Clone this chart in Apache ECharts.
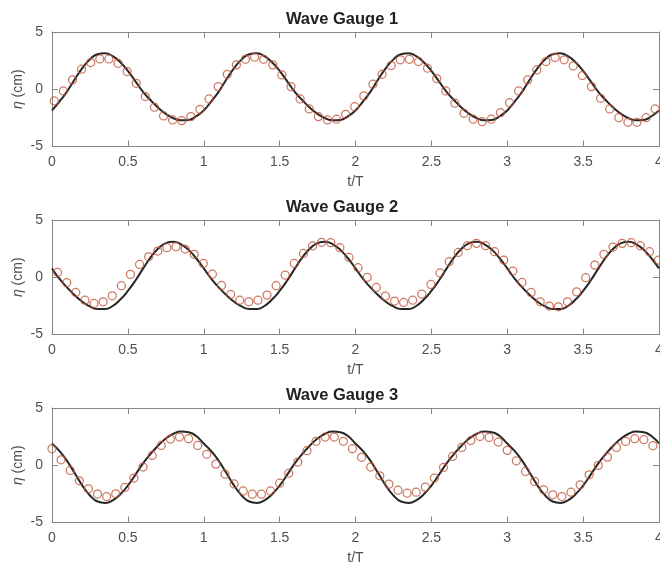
<!DOCTYPE html>
<html>
<head>
<meta charset="utf-8">
<script src="https://cdn.jsdelivr.net/npm/echarts@6/dist/echarts.min.js"></script>
<style>
    html, body { margin: 0; padding: 0; background: #fff; }
    #main { width: 660px; height: 571px; }
</style>
</head>
<body>
<div id="main"></div>
<script>
// 理论曲线的采样时刻 t/T
var lineT = [0, 0.05, 0.1, 0.15, 0.2, 0.25, 0.3, 0.35, 0.4, 0.45, 0.5, 0.55, 0.6, 0.65, 0.7, 0.75, 0.8, 0.85, 0.9, 0.95,
    1, 1.05, 1.1, 1.15, 1.2, 1.25, 1.3, 1.35, 1.4, 1.45, 1.5, 1.55, 1.6, 1.65, 1.7, 1.75, 1.8, 1.85, 1.9, 1.95,
    2, 2.05, 2.1, 2.15, 2.2, 2.25, 2.3, 2.35, 2.4, 2.45, 2.5, 2.55, 2.6, 2.65, 2.7, 2.75, 2.8, 2.85, 2.9, 2.95,
    3, 3.05, 3.1, 3.15, 3.2, 3.25, 3.3, 3.35, 3.4, 3.45, 3.5, 3.55, 3.6, 3.65, 3.7, 3.75, 3.8, 3.85, 3.9, 3.95, 4];

// 理论曲线 η (cm)
var line1 = [-1.85, -1.05, -0.18, 0.87, 1.85, 2.61, 3.06, 3.14, 2.89, 2.36, 1.60, 0.69, -0.23, -0.96, -1.62, -2.15, -2.53, -2.71, -2.68, -2.36,
    -1.85, -1.05, -0.18, 0.87, 1.85, 2.61, 3.06, 3.14, 2.89, 2.36, 1.60, 0.69, -0.23, -0.96, -1.62, -2.15, -2.53, -2.71, -2.68, -2.36,
    -1.85, -1.05, -0.18, 0.87, 1.85, 2.61, 3.06, 3.14, 2.89, 2.36, 1.60, 0.69, -0.23, -0.96, -1.62, -2.15, -2.53, -2.71, -2.68, -2.36,
    -1.85, -1.05, -0.18, 0.87, 1.85, 2.61, 3.06, 3.14, 2.89, 2.36, 1.60, 0.69, -0.23, -0.96, -1.62, -2.15, -2.53, -2.71, -2.68, -2.36, -1.85];
var line2 = [0.77, -0.15, -0.90, -1.58, -2.14, -2.55, -2.77, -2.78, -2.51, -1.95, -1.19, -0.28, 0.75, 1.73, 2.51, 2.98, 3.09, 2.88, 2.39, 1.66,
    0.77, -0.15, -0.90, -1.58, -2.14, -2.55, -2.77, -2.78, -2.51, -1.95, -1.19, -0.28, 0.75, 1.73, 2.51, 2.98, 3.09, 2.88, 2.39, 1.66,
    0.77, -0.15, -0.90, -1.58, -2.14, -2.55, -2.77, -2.78, -2.51, -1.95, -1.19, -0.28, 0.75, 1.73, 2.51, 2.98, 3.09, 2.88, 2.39, 1.66,
    0.77, -0.15, -0.90, -1.58, -2.14, -2.55, -2.77, -2.78, -2.51, -1.95, -1.19, -0.28, 0.75, 1.73, 2.51, 2.98, 3.09, 2.88, 2.39, 1.66, 0.77];
var line3 = [1.90, 1.23, 0.36, -0.70, -1.78, -2.64, -3.17, -3.29, -3.07, -2.54, -1.77, -0.82, 0.17, 0.99, 1.73, 2.34, 2.75, 2.94, 2.88, 2.55,
    1.90, 1.23, 0.36, -0.70, -1.78, -2.64, -3.17, -3.29, -3.07, -2.54, -1.77, -0.82, 0.17, 0.99, 1.73, 2.34, 2.75, 2.94, 2.88, 2.55,
    1.90, 1.23, 0.36, -0.70, -1.78, -2.64, -3.17, -3.29, -3.07, -2.54, -1.77, -0.82, 0.17, 0.99, 1.73, 2.34, 2.75, 2.94, 2.88, 2.55,
    1.90, 1.23, 0.36, -0.70, -1.78, -2.64, -3.17, -3.29, -3.07, -2.54, -1.77, -0.82, 0.17, 0.99, 1.73, 2.34, 2.75, 2.94, 2.88, 2.55, 1.90];

// 实测点的时刻
var measT1 = [0.015, 0.075, 0.135, 0.195, 0.255, 0.315, 0.375, 0.435, 0.495, 0.555, 0.615, 0.675, 0.735, 0.795, 0.855, 0.915, 0.975,
    1.035, 1.095, 1.155, 1.215, 1.275, 1.335, 1.395, 1.455, 1.515, 1.575, 1.635, 1.695, 1.755, 1.815, 1.875, 1.935, 1.995,
    2.055, 2.115, 2.175, 2.235, 2.295, 2.355, 2.415, 2.475, 2.535, 2.595, 2.655, 2.715, 2.775, 2.835, 2.895, 2.955,
    3.015, 3.075, 3.135, 3.195, 3.255, 3.315, 3.375, 3.435, 3.495, 3.555, 3.615, 3.675, 3.735, 3.795, 3.855, 3.915, 3.975];
var measT2 = [0.037, 0.097, 0.157, 0.217, 0.277, 0.337, 0.397, 0.457, 0.517, 0.577, 0.637, 0.697, 0.757, 0.817, 0.877, 0.937, 0.997,
    1.057, 1.117, 1.177, 1.237, 1.297, 1.357, 1.417, 1.477, 1.537, 1.597, 1.657, 1.717, 1.777, 1.837, 1.897, 1.957,
    2.017, 2.077, 2.137, 2.197, 2.257, 2.317, 2.377, 2.437, 2.497, 2.557, 2.617, 2.677, 2.737, 2.797, 2.857, 2.917, 2.977,
    3.037, 3.097, 3.157, 3.217, 3.277, 3.337, 3.397, 3.457, 3.517, 3.577, 3.637, 3.697, 3.757, 3.817, 3.877, 3.937, 3.997];
var measT3 = [0, 0.06, 0.12, 0.18, 0.24, 0.3, 0.36, 0.42, 0.48, 0.54, 0.6, 0.66, 0.72, 0.78, 0.84, 0.9, 0.96,
    1.02, 1.08, 1.14, 1.2, 1.26, 1.32, 1.38, 1.44, 1.5, 1.56, 1.62, 1.68, 1.74, 1.8, 1.86, 1.92, 1.98,
    2.04, 2.1, 2.16, 2.22, 2.28, 2.34, 2.4, 2.46, 2.52, 2.58, 2.64, 2.7, 2.76, 2.82, 2.88, 2.94,
    3, 3.06, 3.12, 3.18, 3.24, 3.3, 3.36, 3.42, 3.48, 3.54, 3.6, 3.66, 3.72, 3.78, 3.84, 3.9, 3.96];

// 实测 η (cm)
var meas1 = [-1.02, -0.15, 0.82, 1.75, 2.33, 2.65, 2.65, 2.27, 1.55, 0.52, -0.64, -1.57, -2.33, -2.68, -2.74, -2.39, -1.75,
    -0.85, 0.23, 1.31, 2.13, 2.62, 2.80, 2.62, 2.13, 1.25, 0.23, -0.85, -1.72, -2.39, -2.68, -2.62, -2.19, -1.52,
    -0.58, 0.44, 1.31, 2.07, 2.57, 2.62, 2.42, 1.84, 0.93, -0.15, -1.22, -2.10, -2.62, -2.83, -2.62, -2.04,
    -1.17, -0.15, 0.82, 1.69, 2.42, 2.77, 2.57, 2.04, 1.20, 0.23, -0.79, -1.72, -2.48, -2.89, -2.89, -2.48, -1.72];
var meas2 = [0.42, -0.48, -1.33, -2.00, -2.29, -2.14, -1.62, -0.74, 0.25, 1.12, 1.79, 2.29, 2.58, 2.67, 2.46, 2.00, 1.21,
    0.27, -0.72, -1.50, -2.00, -2.14, -2.00, -1.56, -0.74, 0.19, 1.21, 2.08, 2.73, 3.05, 3.02, 2.58, 1.73,
    0.83, -0.01, -0.89, -1.65, -2.08, -2.20, -2.00, -1.47, -0.63, 0.38, 1.36, 2.17, 2.76, 2.96, 2.76, 2.23, 1.50,
    0.54, -0.45, -1.33, -2.14, -2.52, -2.58, -2.14, -1.27, -0.04, 1.06, 2.00, 2.64, 2.96, 3.02, 2.76, 2.23, 1.50];
var meas3 = [1.44, 0.48, -0.45, -1.36, -2.06, -2.52, -2.73, -2.49, -1.94, -1.12, -0.16, 0.86, 1.73, 2.29, 2.46, 2.32, 1.73,
    0.96, 0.10, -0.77, -1.63, -2.24, -2.53, -2.53, -2.24, -1.57, -0.69, 0.28, 1.27, 2.09, 2.46, 2.46, 2.09, 1.45,
    0.69, -0.16, -0.92, -1.65, -2.18, -2.44, -2.35, -1.91, -1.12, -0.19, 0.77, 1.56, 2.17, 2.52, 2.43, 2.03,
    1.30, 0.39, -0.54, -1.41, -2.14, -2.58, -2.73, -2.35, -1.71, -0.83, -0.01, 0.71, 1.56, 2.08, 2.32, 2.23, 1.71];

var titles = ['Wave Gauge 1', 'Wave Gauge 2', 'Wave Gauge 3'];
var xTicks = { min: 0, max: 4, interval: 0.5 };
var yTicks = { min: -5, max: 5, interval: 5 };

var lineData = [line1, line2, line3];
var measTime = [measT1, measT2, measT3];
var measData = [meas1, meas2, meas3];

var FONT = 'Liberation Sans, Arial, Helvetica, sans-serif';
var AXIS_COLOR = '#868686';
var LABEL_COLOR = '#4f4f4f';
var gridTops = [32, 220, 408];

function pairs(xs, ys) {
    return xs.map(function (x, i) { return [x, ys[i]]; });
}

var grids = [], xAxes = [], yAxes = [], series = [], graphics = [];

for (var i = 0; i < 3; i++) {
    // outerBoundsMode none: 不让 v6 自动把标签缩进画布里
    grids.push({ left: 52, right: 1, top: gridTops[i], height: 114.5, outerBoundsMode: 'none', containLabel: false });

    var tick = { show: true, inside: true, length: 6, lineStyle: { color: AXIS_COLOR, width: 1 } };
    var axisLine = { show: true, onZero: false, lineStyle: { color: AXIS_COLOR, width: 1 } };

    // 下方 x 轴
    xAxes.push({
        gridIndex: i, type: 'value', position: 'bottom',
        min: xTicks.min, max: xTicks.max, interval: xTicks.interval,
        axisLine: axisLine, axisTick: tick, splitLine: { show: false },
        axisLabel: { color: LABEL_COLOR, fontSize: 14, fontFamily: FONT, margin: 9 },
        name: 't/T', nameLocation: 'middle', nameGap: 29,
        nameTextStyle: { color: LABEL_COLOR, fontSize: 14, fontFamily: FONT }
    });
    // 上方边框
    xAxes.push({
        gridIndex: i, type: 'value', position: 'top',
        min: xTicks.min, max: xTicks.max, interval: xTicks.interval,
        axisLine: axisLine, axisTick: tick, splitLine: { show: false },
        axisLabel: { show: false }
    });
    // 左侧 y 轴
    yAxes.push({
        gridIndex: i, type: 'value', position: 'left',
        min: yTicks.min, max: yTicks.max, interval: yTicks.interval,
        axisLine: axisLine, axisTick: tick, splitLine: { show: false },
        axisLabel: { color: LABEL_COLOR, fontSize: 14, fontFamily: FONT, margin: 9 },
        name: '{i|η} (cm)', nameLocation: 'middle', nameGap: 27, nameMoveOverlap: false,
        nameTextStyle: {
            color: LABEL_COLOR, fontSize: 14, fontFamily: FONT,
            rich: { i: { fontStyle: 'italic', fontSize: 14, fontFamily: FONT, color: LABEL_COLOR } }
        }
    });
    // 右侧边框
    yAxes.push({
        gridIndex: i, type: 'value', position: 'right',
        min: yTicks.min, max: yTicks.max, interval: yTicks.interval,
        axisLine: axisLine, axisTick: tick, splitLine: { show: false },
        axisLabel: { show: false }
    });

    series.push({
        type: 'line', xAxisIndex: i * 2, yAxisIndex: i * 2,
        data: pairs(lineT, lineData[i]),
        smooth: true, showSymbol: false, silent: true,
        lineStyle: { color: '#262626', width: 2 },
        z: 2
    });
    series.push({
        type: 'scatter', xAxisIndex: i * 2, yAxisIndex: i * 2,
        data: pairs(measTime[i], measData[i]),
        symbol: 'circle', symbolSize: 8,
        itemStyle: { color: 'rgba(0,0,0,0)', borderColor: '#c0553a', borderWidth: 1.25 },
        z: 3
    });

    graphics.push({
        type: 'text', x: 342, y: gridTops[i] - 13,
        style: {
            text: titles[i], fill: '#222', font: 'bold 16.5px ' + FONT,
            align: 'center', verticalAlign: 'middle'
        }
    });
}

var myChart = echarts.init(document.getElementById('main'));
myChart.setOption({
    animation: false,
    backgroundColor: '#fff',
    grid: grids,
    xAxis: xAxes,
    yAxis: yAxes,
    series: series,
    graphic: graphics
});
</script>
</body>
</html>
